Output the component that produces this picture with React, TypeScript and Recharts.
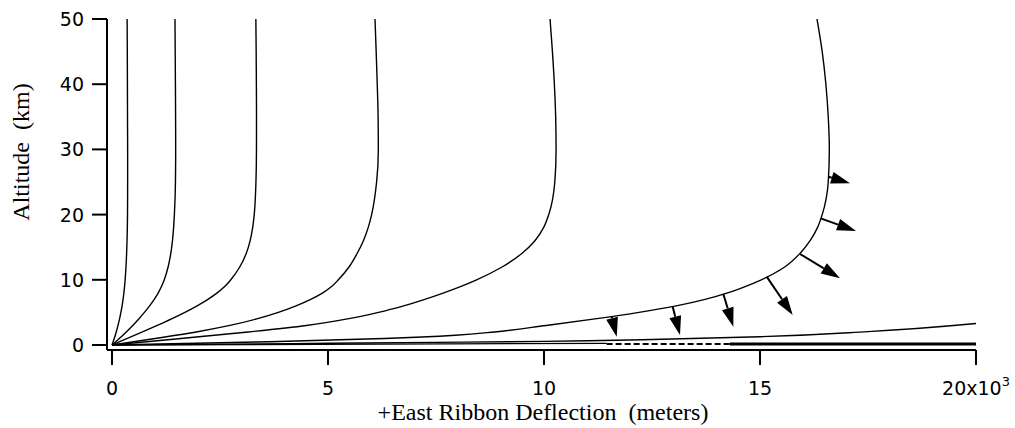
import React from 'react'
import { LineChart, Line, XAxis, YAxis, ReferenceLine } from 'recharts'

// altitude levels (km) shared by the five narrower ribbon profiles
const altitudeKm = [0, 1, 2, 3, 4, 5, 6, 7, 8, 9, 10, 12, 14, 16, 18, 20, 25, 30, 35, 40, 45, 50]

// east deflection (m) of each profile at those altitudes
const profileA = [0, 52, 98, 139, 175, 206, 233, 256, 275, 291, 304, 324, 338, 348, 355, 359, 362, 362, 359, 357, 354, 350]
const profileB = [0, 170, 330, 480, 620, 750, 870, 978, 1071, 1148, 1210, 1300, 1360, 1400, 1426, 1444, 1469, 1474, 1472, 1468, 1463, 1458]
const profileC = [0, 355, 705, 1048, 1378, 1688, 1970, 2220, 2435, 2615, 2750, 2960, 3105, 3198, 3256, 3292, 3332, 3344, 3345, 3342, 3337, 3330]
const profileD = [0, 1000, 1950, 2730, 3350, 3850, 4260, 4600, 4880, 5090, 5240, 5490, 5670, 5820, 5930, 6010, 6125, 6165, 6160, 6140, 6115, 6088]
const profileE = [0, 1600, 3150, 4500, 5450, 6170, 6750, 7240, 7680, 8080, 8440, 9040, 9480, 9790, 9990, 10110, 10250, 10280, 10270, 10240, 10195, 10140]

// widest profile (the one carrying the arrows)
const wideAltitude = [0, 0.5, 1, 1.5, 2, 3, 4, 5, 6, 7, 8, 9, 10, 12, 14, 16, 18, 20, 25, 30, 35, 40, 45, 50]
const wideDeflection = [0, 3650, 6300, 7950, 8850, 10050, 11180, 12200, 13060, 13730, 14250, 14670, 15030, 15580, 15920, 16160, 16330, 16440, 16580, 16605, 16580, 16525, 16440, 16320]

// low profile that leaves the plot on the right
const lowDeflection = [0, 2500, 5000, 7500, 10000, 12500, 15000, 17500, 20000]
const lowAltitude = [0, 0.12, 0.26, 0.4, 0.55, 0.85, 1.27, 2.05, 3.3]

// ground-level traces
const groundDeflection = [0, 11450]
const groundAltitude = [0, 0.25]
const dashedDeflection = [11450, 14300]
const thickDeflection = [14300, 20000]
const groundLevel = 0.15

// wind arrows on the widest profile: [deflection m, altitude km]
const arrowBase = [
  [11567, 4.34], [12979, 5.87], [14151, 7.82], [15155, 10.48],
  [15926, 13.96], [16405, 19.43], [16581, 25.81],
]
const arrowTip = [
  [11683, 1.27], [13148, 1.53], [14382, 2.81], [15757, 4.6],
  [16852, 10.23], [17222, 17.48], [17083, 24.8],
]

const xTicks = [0, 5000, 10000, 15000, 20000]
const yTicks = [0, 10, 20, 30, 40, 50]

const toPoints = (xs: number[], ys: number[]) => xs.map((x, i) => ({ x, y: ys[i] }))

const profiles = [profileA, profileB, profileC, profileD, profileE].map((xs) => toPoints(xs, altitudeKm))
profiles.push(toPoints(wideDeflection, wideAltitude))
const lowProfile = toPoints(lowDeflection, lowAltitude)
const ground = toPoints(groundDeflection, groundAltitude)
const dashed = toPoints(dashedDeflection, dashedDeflection.map(() => groundLevel))
const thick = toPoints(thickDeflection, thickDeflection.map(() => groundLevel))

const tickFont = { fontFamily: 'DejaVu Sans', fontSize: 19, fill: '#000' }
const labelFont = { fontFamily: 'Liberation Serif', fontSize: 24, fill: '#000' }

const XTick = (props: any) => {
  const { x, y, payload } = props
  const v = payload.value / 1000
  return (
    <text x={x} y={y + 29.5} textAnchor="middle" {...tickFont}>
      {v === 20 ? (
        <>
          20x10<tspan dy={-9} fontSize={13}>3</tspan>
        </>
      ) : (
        v
      )}
    </text>
  )
}

const YTick = (props: any) => {
  const { x, y, payload } = props
  return (
    <text x={x - 8} y={y + 7} textAnchor="end" {...tickFont}>
      {payload.value}
    </text>
  )
}

const Arrow = (props: any) => {
  const { x1, y1, x2, y2 } = props
  const dx = x2 - x1
  const dy = y2 - y1
  const len = Math.hypot(dx, dy)
  const ux = dx / len
  const uy = dy / len
  const head = Math.min(19, len)
  const hw = 6
  const bx = x2 - ux * head
  const by = y2 - uy * head
  return (
    <g>
      <line x1={x1} y1={y1} x2={bx} y2={by} stroke="#000" strokeWidth={2} />
      <polygon
        points={`${x2},${y2} ${bx - uy * hw},${by + ux * hw} ${bx + uy * hw},${by - ux * hw}`}
        fill="#000"
      />
    </g>
  )
}

const lineProps = { dataKey: 'y', stroke: '#000', dot: false, activeDot: false, isAnimationActive: false }

export default function App() {
  return (
    <div style={{ position: 'absolute', left: 0, top: 0, width: 1015, height: 428, background: '#fff' }}>
      <LineChart width={1015} height={428} margin={{ top: 19, right: 39, bottom: 18, left: 17 }}>
        <XAxis
          type="number"
          dataKey="x"
          domain={[0, 20000]}
          ticks={xTicks}
          padding={{ left: 5, right: 0 }}
          height={60}
          tickSize={15}
          tickMargin={0}
          tick={<XTick />}
          axisLine={{ stroke: '#000', strokeWidth: 2 }}
          tickLine={{ stroke: '#000', strokeWidth: 2 }}
          label={{
            content: () => (
              <text x={543} y={420} textAnchor="middle" style={{ whiteSpace: 'pre' }} {...labelFont}>
                {'+East Ribbon Deflection  (meters)'}
              </text>
            ),
          }}
        />
        <YAxis
          type="number"
          domain={[0, 50]}
          ticks={yTicks}
          padding={{ top: 0, bottom: 5 }}
          width={90}
          tickSize={15}
          tickMargin={0}
          tick={<YTick />}
          axisLine={{ stroke: '#000', strokeWidth: 2 }}
          tickLine={{ stroke: '#000', strokeWidth: 2 }}
          label={{
            content: () => (
              <text
                transform="translate(29,152) rotate(-90)"
                textAnchor="middle"
                style={{ whiteSpace: 'pre' }}
                {...labelFont}
              >
                {'Altitude  (km)'}
              </text>
            ),
          }}
        />
        {profiles.map((d, i) => (
          <Line key={i} data={d} type="monotoneY" strokeWidth={1.4} {...lineProps} />
        ))}
        <Line data={lowProfile} type="monotoneY" strokeWidth={1.4} {...lineProps} />
        <Line data={ground} type="linear" strokeWidth={1.2} {...lineProps} />
        <Line data={dashed} type="linear" strokeWidth={2} strokeDasharray="6 3" {...lineProps} />
        <Line data={thick} type="linear" strokeWidth={3} {...lineProps} />
        {arrowBase.map((b, i) => (
          <ReferenceLine
            key={'a' + i}
            segment={[
              { x: b[0], y: b[1] },
              { x: arrowTip[i][0], y: arrowTip[i][1] },
            ]}
            ifOverflow="visible"
            shape={Arrow}
          />
        ))}
      </LineChart>
    </div>
  )
}
